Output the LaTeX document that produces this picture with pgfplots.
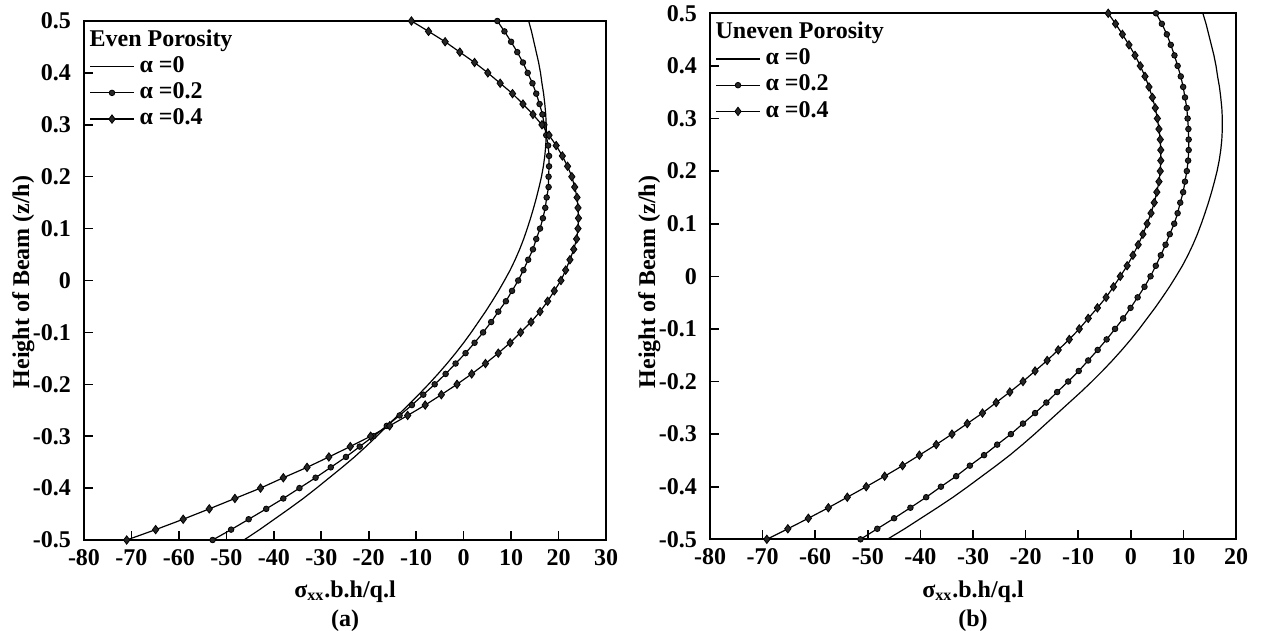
\documentclass[border=0pt]{standalone}
\usepackage{fontspec}
\setmainfont{Liberation Serif}
\usepackage{pgfplots}
\usepackage{pgfplotstable}
\pgfplotsset{compat=1.18}

% stress profiles, z/h vs sigma_xx.b.h/q.l
\pgfplotstableread{
z     a0     a2     a4
-0.50 -46.3  -52.9  -71.0
-0.48 -43.0  -49.0  -64.9
-0.46 -39.9  -45.3  -59.1
-0.44 -36.8  -41.6  -53.6
-0.42 -33.8  -38.0  -48.2
-0.40 -31.0  -34.6  -42.8
-0.38 -28.3  -31.2  -38.0
-0.36 -25.6  -28.0  -33.0
-0.34 -23.0  -24.8  -28.4
-0.32 -20.6  -21.9  -23.9
-0.30 -18.3  -19.0  -19.6
-0.28 -16.1  -16.2  -15.6
-0.26 -13.9  -13.5  -11.8
-0.24 -11.7  -10.9  -8.1
-0.22 -9.5   -8.5   -4.7
-0.20 -7.4   -6.1   -1.4
-0.18 -5.4   -3.8   1.7
-0.16 -3.5   -1.7   4.6
-0.14 -1.7   0.4    7.3
-0.12 0.0    2.3    9.8
-0.10 1.6    4.1    12.0
-0.08 3.1    5.8    14.2
-0.06 4.6    7.3    16.1
-0.04 6.0    8.9    17.7
-0.02 7.35   10.2   19.1
0.00  8.6    11.5   20.5
0.02  9.8    12.6   21.5
0.04  10.85  13.6   22.4
0.06  11.8   14.6   23.2
0.08  12.65  15.3   23.8
0.10  13.4   16.1   24.1
0.12  14.1   16.7   24.2
0.14  14.75  17.2   24.1
0.16  15.35  17.5   23.9
0.18  15.9   17.9   23.4
0.20  16.4   17.9   22.8
0.22  16.8   18.0   21.9
0.24  17.1   18.0   20.8
0.26  17.3   17.8   19.5
0.28  17.4   17.4   18.0
0.30  17.4   17.0   16.5
0.32  17.3   16.6   14.6
0.34  17.1   16.0   12.5
0.36  16.85  15.3   10.3
0.38  16.5   14.5   7.7
0.40  16.2   13.5   5.1
0.42  15.8   12.5   2.3
0.44  15.3   11.3   -0.8
0.46  14.8   10.0   -3.9
0.48  14.3   8.6    -7.4
0.50  13.7   7.1    -11.0
}\evendata

\pgfplotstableread{
z     a0     a2     a4
-0.50 -46.3  -51.4  -69.2
-0.48 -43.0  -48.2  -65.2
-0.46 -39.9  -45.0  -61.3
-0.44 -36.8  -41.9  -57.5
-0.42 -33.8  -38.9  -53.9
-0.40 -31.0  -36.1  -50.3
-0.38 -28.3  -33.2  -46.8
-0.36 -25.6  -30.6  -43.4
-0.34 -23.0  -27.9  -40.2
-0.32 -20.6  -25.4  -37.0
-0.30 -18.3  -22.8  -34.0
-0.28 -16.1  -20.5  -31.1
-0.26 -13.9  -18.2  -28.2
-0.24 -11.7  -16.05 -25.6
-0.22 -9.5   -14.0  -23.0
-0.20 -7.4   -11.9  -20.5
-0.18 -5.4   -9.9   -18.2
-0.16 -3.5   -8.1   -15.9
-0.14 -1.7   -6.3   -13.8
-0.12 0.0    -4.6   -11.7
-0.10 1.6    -3.0   -9.8
-0.08 3.1    -1.45  -8.1
-0.06 4.6    -0.05  -6.35
-0.04 6.0    1.3    -4.7
-0.02 7.35   2.6    -3.3
0.00  8.6    3.75   -2.0
0.02  9.8    4.75   -0.7
0.04  10.85  5.7    0.4
0.06  11.8   6.6    1.4
0.08  12.65  7.4    2.3
0.10  13.4   8.25   3.1
0.12  14.1   8.9    3.85
0.14  14.75  9.4    4.45
0.16  15.35  9.95   4.95
0.18  15.9   10.3   5.35
0.20  16.4   10.65  5.6
0.22  16.8   10.9   5.7
0.24  17.1   11.0   5.7
0.26  17.3   11.0   5.6
0.28  17.4   10.95  5.35
0.30  17.4   10.8   5.05
0.32  17.3   10.65  4.65
0.34  17.1   10.3   4.1
0.36  16.85  9.95   3.45
0.38  16.5   9.5    2.7
0.40  16.2   8.9    1.8
0.42  15.8   8.3    0.8
0.44  15.3   7.6    -0.35
0.46  14.8   6.85   -1.6
0.48  14.3   5.9    -2.9
0.50  13.7   4.8    -4.3
}\unevendata

\newcommand{\lblfont}{\fontsize{12}{14}\selectfont\bfseries}

\pgfplotsset{
  beam/.style={
    scale only axis,
    xmin=-80, ymin=-0.5, ymax=0.5,
    ytick={-0.5,-0.4,-0.3,-0.2,-0.1,0,0.1,0.2,0.3,0.4,0.5},
    tick pos=left, tick align=inside,
    major tick length=4.5pt,
    axis line style={line width=0.9pt},
    every tick/.style={black, line width=0.8pt},
    tick label style={font=\lblfont},
    /pgf/number format/assume math mode=true,
    yticklabel style={xshift=-3pt, /pgf/number format/.cd, fixed, precision=1, /tikz/.cd},
    xticklabel style={yshift=-1pt},
    legend cell align=left,
    legend style={at={(rel axis cs:0,1)}, anchor=north west, draw=none, fill=none,
      xshift=2.5pt, yshift=-3pt, inner sep=0pt, row sep=0pt, column sep=1pt, font=\lblfont,
      nodes={inner xsep=1.5pt, inner ysep=1.2pt, text height=8.2pt, text depth=2.5pt}},
    legend image code/.code={\draw[mark repeat=2,mark phase=2,##1] plot coordinates {(0pt,0pt) (11pt,0pt) (22pt,0pt)};},
  },
  plain/.style={black, line width=0.6pt, mark=none},
  circ/.style={black, line width=0.6pt, mark=*, mark size=1.4pt, mark options={fill=black!85, line width=0.4pt}},
  diam/.style={black, line width=0.6pt, mark=diamond*, mark size=2.1pt, mark options={fill=black!85, line width=0.4pt}},
}

\begin{document}
\begin{tikzpicture}
\useasboundingbox (0,0) rectangle (631pt,-315.5pt);

% (a) even porosity
\begin{axis}[beam, at={(42pt,-270pt)}, anchor=south west,
  width=261pt, height=259.5pt, xmax=30,
  xtick={-80,-70,-60,-50,-40,-30,-20,-10,0,10,20,30}]
\addlegendimage{empty legend}
\addlegendentry{\hspace*{-25pt}Even Porosity}
\addplot[plain] table[x=a0, y=z] {\evendata};
\addlegendentry{α =0}
\addplot[circ] table[x=a2, y=z] {\evendata};
\addlegendentry{α =0.2}
\addplot[diam] table[x=a4, y=z] {\evendata};
\addlegendentry{α =0.4}
\end{axis}

% (b) uneven porosity
\begin{axis}[beam, at={(355pt,-269.65pt)}, anchor=south west,
  width=263pt, height=263pt, xmax=20,
  xtick={-80,-70,-60,-50,-40,-30,-20,-10,0,10,20}]
\addlegendimage{empty legend}
\addlegendentry{\hspace*{-25pt}Uneven Porosity}
\addplot[plain] table[x=a0, y=z] {\unevendata};
\addlegendentry{α =0}
\addplot[circ] table[x=a2, y=z] {\unevendata};
\addlegendentry{α =0.2}
\addplot[diam] table[x=a4, y=z] {\unevendata};
\addlegendentry{α =0.4}
\end{axis}

\node[rotate=90, anchor=base, font=\lblfont] at (14.5pt,-141pt) {Height of Beam (z/h)};
\node[rotate=90, anchor=base, font=\lblfont] at (327.5pt,-141pt) {Height of Beam (z/h)};
\node[anchor=base, font=\lblfont] at (172.5pt,-298.5pt) {σ\textsubscript{xx}.b.h/q.l};
\node[anchor=base, font=\lblfont] at (172.5pt,-313pt) {(a)};
\node[anchor=base, font=\lblfont] at (486.5pt,-298.5pt) {σ\textsubscript{xx}.b.h/q.l};
\node[anchor=base, font=\lblfont] at (486.5pt,-313pt) {(b)};
\end{tikzpicture}
\end{document}
